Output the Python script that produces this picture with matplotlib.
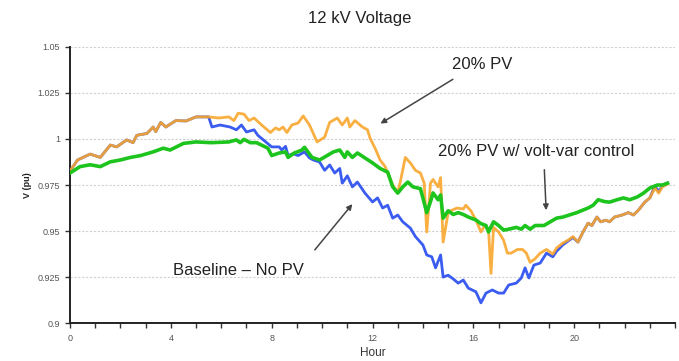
import matplotlib
matplotlib.use("Agg")
import matplotlib.pyplot as plt

plt.rcParams['font.family'] = ['Liberation Sans', 'DejaVu Sans']

base_h = [0.0, 0.3, 0.8, 1.2, 1.6, 1.85, 2.25, 2.5, 2.65, 3.05, 3.3, 3.4, 3.6, 3.8, 4.2, 4.6, 5.0, 5.5,
          5.63, 5.95, 6.35, 6.6, 6.8, 7.0, 7.3, 7.45, 7.8, 8.0, 8.3, 8.4, 8.55, 8.65, 8.85, 9.05, 9.3,
          9.5, 9.65, 9.9, 10.1, 10.3, 10.5, 10.7, 10.8, 11.0, 11.2, 11.4, 11.7, 12.0, 12.2, 12.4, 12.6,
          12.8, 13.0, 13.2, 13.5, 13.7, 14.0, 14.15, 14.35, 14.5, 14.7, 14.8, 15.0, 15.2, 15.4, 15.6,
          15.8, 16.1, 16.3, 16.5, 16.75, 17.0, 17.2, 17.4, 17.7, 17.9, 18.05, 18.2, 18.4, 18.65, 18.9,
          19.15, 19.3, 19.55, 19.75, 19.95, 20.15, 20.35, 20.55, 20.7, 20.9, 21.05, 21.25, 21.4, 21.6,
          21.9, 22.15, 22.35, 22.55, 22.8, 23.0, 23.2, 23.35, 23.5, 23.7]
base_v = [0.9826, 0.9886, 0.9918, 0.9900, 0.9967, 0.9957, 0.9995, 0.9980, 1.0020, 1.0030, 1.0065, 1.0040,
          1.0090, 1.0065, 1.0100, 1.0098, 1.0120, 1.0120, 1.0065, 1.0076, 1.0065, 1.0050, 1.0076,
          1.0038, 1.0050, 1.0020, 0.9980, 0.9957, 0.9957, 0.9940, 0.9960, 0.9910, 0.9920, 0.9910,
          0.9930, 0.9897, 0.9886, 0.9875, 0.9830, 0.9859, 0.9815, 0.9840, 0.9760, 0.9800, 0.9740,
          0.9766, 0.9706, 0.9658, 0.9680, 0.9625, 0.9640, 0.9570, 0.9587, 0.9550, 0.9516, 0.9470,
          0.9424, 0.9370, 0.9360, 0.9300, 0.9370, 0.9250, 0.9260, 0.9240, 0.9217, 0.9234, 0.9190,
          0.9170, 0.9110, 0.9163, 0.9180, 0.9163, 0.9163, 0.9207, 0.9217, 0.9245, 0.9300, 0.9245,
          0.9315, 0.9326, 0.9380, 0.9360, 0.9390, 0.9425, 0.9445, 0.9465, 0.9440, 0.9495, 0.9543,
          0.9530, 0.9576, 0.9550, 0.9559, 0.9550, 0.9576, 0.9587, 0.9600, 0.9587, 0.9614, 0.9657,
          0.9680, 0.9745, 0.9715, 0.9745, 0.9760]

pv_h = [0.0, 0.3, 0.8, 1.2, 1.6, 1.85, 2.25, 2.5, 2.65, 3.05, 3.3, 3.4, 3.6, 3.8, 4.2, 4.6, 5.0, 5.5,
        5.9, 6.3, 6.5, 6.67, 6.9, 7.1, 7.3, 7.6, 7.95, 8.15, 8.3, 8.45, 8.6, 8.8, 9.05, 9.25, 9.5, 9.8,
        10.1, 10.3, 10.6, 10.8, 11.0, 11.1, 11.3, 11.6, 11.8, 11.9, 12.1, 12.3, 12.5, 12.8, 13.0, 13.1,
        13.3, 13.5, 13.7, 13.9, 14.05, 14.15, 14.3, 14.4, 14.6, 14.7, 14.8, 15.0, 15.1, 15.35, 15.6,
        15.7, 15.9, 16.1, 16.3, 16.45, 16.6, 16.7, 16.8, 17.0, 17.2, 17.35, 17.5, 17.75, 17.95, 18.1,
        18.25, 18.45, 18.65, 18.9, 19.15, 19.3, 19.55, 19.75, 19.95, 20.15, 20.35, 20.55, 20.7, 20.9,
        21.05, 21.25, 21.4, 21.6, 21.9, 22.15, 22.35, 22.55, 22.8, 23.0, 23.2, 23.35, 23.5, 23.7]
pv_v = [0.9826, 0.9886, 0.9918, 0.9900, 0.9967, 0.9957, 0.9995, 0.9980, 1.0020, 1.0030, 1.0065, 1.0040,
        1.0090, 1.0065, 1.0100, 1.0098, 1.0120, 1.0120, 1.0114, 1.0120, 1.0100, 1.0140, 1.0135,
        1.0100, 1.0114, 1.0076, 1.0035, 1.0060, 1.0050, 1.0065, 1.0035, 1.0076, 1.0087, 1.0125,
        1.0076, 0.9984, 1.0010, 1.0090, 1.0114, 1.0076, 1.0114, 1.0065, 1.0100, 1.0065, 1.0050,
        1.0005, 0.9950, 0.9886, 0.9850, 0.9750, 0.9710, 0.9766, 0.9900, 0.9870, 0.9830, 0.9815,
        0.9760, 0.9495, 0.9760, 0.9780, 0.9740, 0.9790, 0.9440, 0.9600, 0.9610, 0.9625, 0.9620,
        0.9640, 0.9610, 0.9560, 0.9495, 0.9530, 0.9510, 0.9270, 0.9520, 0.9495, 0.9450, 0.9380,
        0.9380, 0.9400, 0.9400, 0.9380, 0.9330, 0.9350, 0.9380, 0.9400, 0.9375, 0.9408, 0.9435,
        0.9450, 0.9470, 0.9440, 0.9495, 0.9543, 0.9530, 0.9576, 0.9550, 0.9559, 0.9550, 0.9576,
        0.9587, 0.9600, 0.9587, 0.9614, 0.9657, 0.9680, 0.9734, 0.9706, 0.9740, 0.9755]

vv_h = [0.0, 0.4, 0.8, 1.2, 1.6, 2.0, 2.4, 2.8, 3.3, 3.7, 3.97, 4.5, 5.0, 5.6, 6.3, 6.6, 6.75, 6.9, 7.15,
        7.4, 7.85, 8.0, 8.3, 8.55, 8.65, 8.9, 9.2, 9.3, 9.6, 9.9, 10.2, 10.45, 10.7, 10.9, 11.0, 11.2,
        11.4, 11.7, 12.0, 12.3, 12.6, 12.8, 13.0, 13.2, 13.4, 13.6, 13.9, 14.15, 14.3, 14.4, 14.6,
        14.7, 14.8, 15.0, 15.2, 15.4, 15.6, 15.8, 16.1, 16.3, 16.5, 16.6, 16.8, 17.0, 17.2, 17.4,
        17.7, 17.9, 18.05, 18.25, 18.45, 18.8, 19.05, 19.3, 19.55, 19.8, 20.1, 20.35, 20.55, 20.75,
        20.95, 21.2, 21.4, 21.65, 21.95, 22.2, 22.5, 22.75, 23.0, 23.3, 23.5, 23.7]
vv_v = [0.9815, 0.9850, 0.9860, 0.9850, 0.9876, 0.9886, 0.9900, 0.9910, 0.9930, 0.9950, 0.9940, 0.9976,
        0.9984, 0.9980, 0.9984, 0.9995, 0.9980, 0.9998, 0.9980, 0.9980, 0.9950, 0.9910, 0.9924,
        0.9930, 0.9900, 0.9924, 0.9940, 0.9955, 0.9900, 0.9886, 0.9910, 0.9930, 0.9940, 0.9900,
        0.9930, 0.9900, 0.9924, 0.9897, 0.9870, 0.9840, 0.9820, 0.9740, 0.9706, 0.9740, 0.9766,
        0.9740, 0.9730, 0.9600, 0.9660, 0.9707, 0.9670, 0.9696, 0.9570, 0.9610, 0.9590, 0.9600,
        0.9590, 0.9576, 0.9560, 0.9540, 0.9530, 0.9495, 0.9550, 0.9530, 0.9505, 0.9510, 0.9520,
        0.9510, 0.9530, 0.9510, 0.9530, 0.9530, 0.9550, 0.9570, 0.9576, 0.9587, 0.9600, 0.9614,
        0.9625, 0.9640, 0.9670, 0.9660, 0.9657, 0.9668, 0.9680, 0.9670, 0.9685, 0.9706, 0.9734,
        0.9750, 0.9750, 0.9760]

yticks = [0.9, 0.925, 0.95, 0.975, 1.0, 1.025, 1.05]
ytick_labels = ['0.9', '0.925', '0.95', '0.975', '1', '1.025', '1.05']

fig = plt.figure(figsize=(6.79, 3.61), dpi=100)
ax = fig.add_axes([0.1031, 0.105, 0.8911, 0.765])

ax.plot(base_h, base_v, color='#3b5cf0', lw=2.0, zorder=3)
ax.plot(pv_h, pv_v, color='#f9a62c', lw=2.0, alpha=0.9, zorder=4)
ax.plot(vv_h, vv_v, color='#1ec41e', lw=2.6, zorder=5)

ax.set_xlim(0, 24)
ax.set_ylim(0.9, 1.05)
ax.set_yticks(yticks)
ax.set_yticklabels(ytick_labels)
ax.set_xticks(range(0, 25))
ax.set_xticklabels([str(h) if h % 4 == 0 and h < 24 else '' for h in range(0, 25)])
ax.tick_params(axis='both', direction='out', length=3.5, width=1, colors='#333333',
               labelsize=6.5, labelcolor='#555555')
ax.tick_params(axis='x', pad=4)
ax.grid(axis='y', color='#d0d0d0', ls=(0, (2, 1.5)), lw=0.8)
ax.set_axisbelow(True)
for s in ['top', 'right']:
    ax.spines[s].set_visible(False)
for s in ['left', 'bottom']:
    ax.spines[s].set_linewidth(1.4)
    ax.spines[s].set_color('#222222')

ax.set_xlabel('Hour', fontsize=8.5, color='#333333', labelpad=3)
ax.set_ylabel('V (pu)', fontsize=6.5, fontweight='bold', color='#222222', labelpad=4)

fig.text(0.530, 0.948, '12 kV Voltage', ha='center', va='center', fontsize=12, color='#222222')

arrow = dict(arrowstyle='-|>', color='#444444', lw=1.1, mutation_scale=8)
ax.annotate('', xy=(12.22, 1.0076), xytext=(15.28, 1.0332), arrowprops=arrow)
ax.text(16.35, 1.0402, '20% PV', ha='center', va='center', fontsize=12, color='#222222')
ax.annotate('', xy=(18.89, 0.9598), xytext=(18.81, 0.9848), arrowprops=arrow)
ax.text(18.49, 0.9932, '20% PV w/ volt-var control', ha='center', va='center', fontsize=12,
        color='#222222')
ax.annotate('', xy=(11.27, 0.9658), xytext=(9.64, 0.9386), arrowprops=arrow)
ax.text(6.67, 0.9288, 'Baseline \u2013 No PV', ha='center', va='center', fontsize=12,
        color='#222222')

fig.savefig('out.png', dpi=100)
